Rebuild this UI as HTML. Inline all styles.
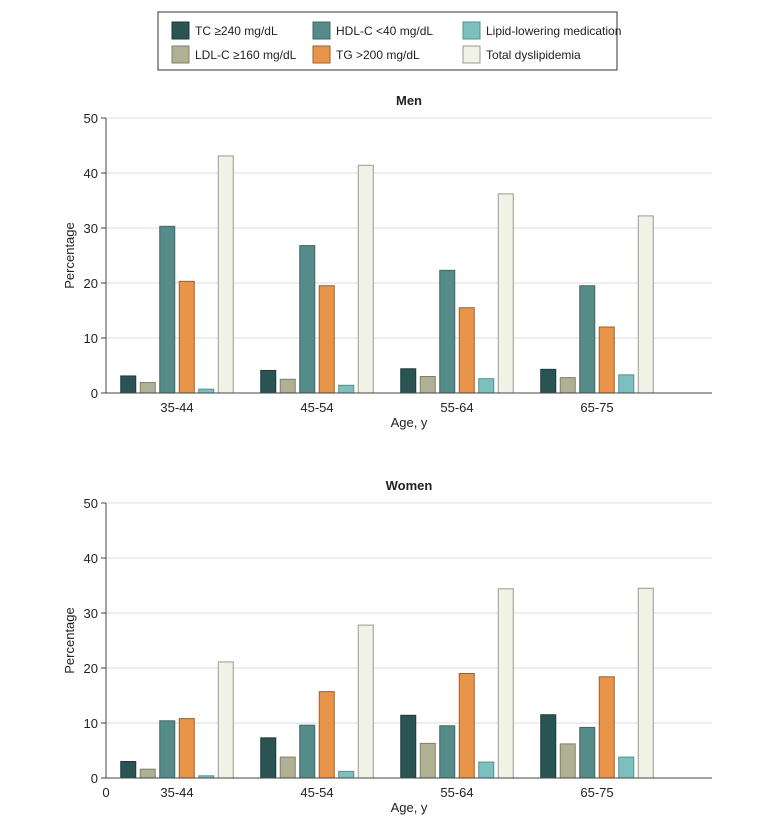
<!DOCTYPE html>
<html><head><meta charset="utf-8"><style>
body{margin:0;background:#fff;}
svg text{font-family:"Liberation Sans",sans-serif;fill:#222;}
</style></head><body>
<svg id="chart" width="780" height="835" xmlns="http://www.w3.org/2000/svg">
<g>
<rect x="158" y="12" width="459" height="58" fill="#fff" stroke="#333" stroke-width="1"/>
</g>
</svg>
<script>
const categories=["35-44","45-54","55-64","65-75"];
const seriesNames=["TC ≥240 mg/dL","LDL-C ≥160 mg/dL","HDL-C <40 mg/dL","TG >200 mg/dL","Lipid-lowering medication","Total dyslipidemia"];
const menTC=[3.1,4.1,4.4,4.3];
const menLDL=[1.9,2.5,3.0,2.8];
const menHDL=[30.3,26.8,22.3,19.5];
const menTG=[20.3,19.5,15.5,12.0];
const menMed=[0.7,1.4,2.6,3.3];
const menTotal=[43.1,41.4,36.2,32.2];
const womenTC=[3.0,7.3,11.4,11.5];
const womenLDL=[1.6,3.8,6.3,6.2];
const womenHDL=[10.4,9.6,9.5,9.2];
const womenTG=[10.8,15.7,19.0,18.4];
const womenMed=[0.4,1.2,2.9,3.8];
const womenTotal=[21.1,27.8,34.4,34.5];
const yTicks=[0,10,20,30,40,50];
const fills=["#2a5453","#b0b194","#558c8a","#e8954a","#7cc1c0","#f1f2e6"];
const strokes=["#1c3a39","#7f8068","#3d6766","#9b5f28","#568e8d","#999990"];
const NS="http://www.w3.org/2000/svg";
const svg=document.getElementById("chart");
function mk(tag,attrs,parent){const e=document.createElementNS(NS,tag);for(const k in attrs)e.setAttribute(k,attrs[k]);(parent||svg).appendChild(e);return e;}
const legPos=[[172,30],[172,54],[313,30],[313,54],[463,30],[463,54]];
seriesNames.forEach((n,j)=>{
  const g=mk("g",{});
  
  
  const [lx,ly]=legPos[j];
  mk("rect",{x:lx,y:ly-8,width:17,height:17,fill:fills[j],stroke:strokes[j]},g);
  const t=mk("text",{x:lx+23,y:ly+5,"font-size":"12"},g);t.textContent=n;
});
function panel(title,top,data,showZero){
  const axisX=106,right=712,baseline=top+275;
  const y=v=>baseline-v*5.5;
  const x=i=>177+i*140;
  const g=mk("g",{});
  
  
  const tt=mk("text",{x:409,y:top-13,"font-size":"13","font-weight":"bold","text-anchor":"middle"},g);tt.textContent=title;
  yTicks.forEach(v=>{
    if(v>0)mk("line",{x1:axisX,x2:right,y1:y(v),y2:y(v),stroke:"#ddd","stroke-width":1},g);
    mk("line",{x1:axisX-5,x2:axisX,y1:y(v),y2:y(v),stroke:"#444"},g);
    const t=mk("text",{x:axisX-8,y:y(v)+5,"font-size":"13","text-anchor":"end"},g);t.textContent=v;
    
    
  });
  mk("line",{x1:axisX,x2:axisX,y1:top,y2:baseline,stroke:"#444"},g);
  data.forEach((arr,j)=>{
    arr.forEach((v,i)=>{
      const bx=x(i)+(j-2.5)*19.5-7.5;
      const r=mk("rect",{x:bx,y:y(v),width:15,height:baseline-y(v),fill:fills[j],stroke:strokes[j],"stroke-width":1},g);
      
      
    });
  });
  mk("line",{x1:axisX,x2:right,y1:baseline,y2:baseline,stroke:"#444"},g);
  categories.forEach((c,i)=>{
    const t=mk("text",{x:x(i),y:baseline+19,"font-size":"13","text-anchor":"middle"},g);t.textContent=c;
    
    
  });
  if(showZero){const t=mk("text",{x:axisX,y:baseline+19,"font-size":"13","text-anchor":"middle"},g);t.textContent="0";}
  const xt=mk("text",{x:409,y:baseline+34,"font-size":"13","text-anchor":"middle"},g);xt.textContent="Age, y";
  
  
  const yt=mk("text",{x:74,y:(top+baseline)/2,"font-size":"13","text-anchor":"middle",transform:`rotate(-90 74 ${(top+baseline)/2})`},g);yt.textContent="Percentage";
  
  
}
panel("Men",118,[menTC,menLDL,menHDL,menTG,menMed,menTotal],false);
panel("Women",503,[womenTC,womenLDL,womenHDL,womenTG,womenMed,womenTotal],true);
</script>
</body></html>
